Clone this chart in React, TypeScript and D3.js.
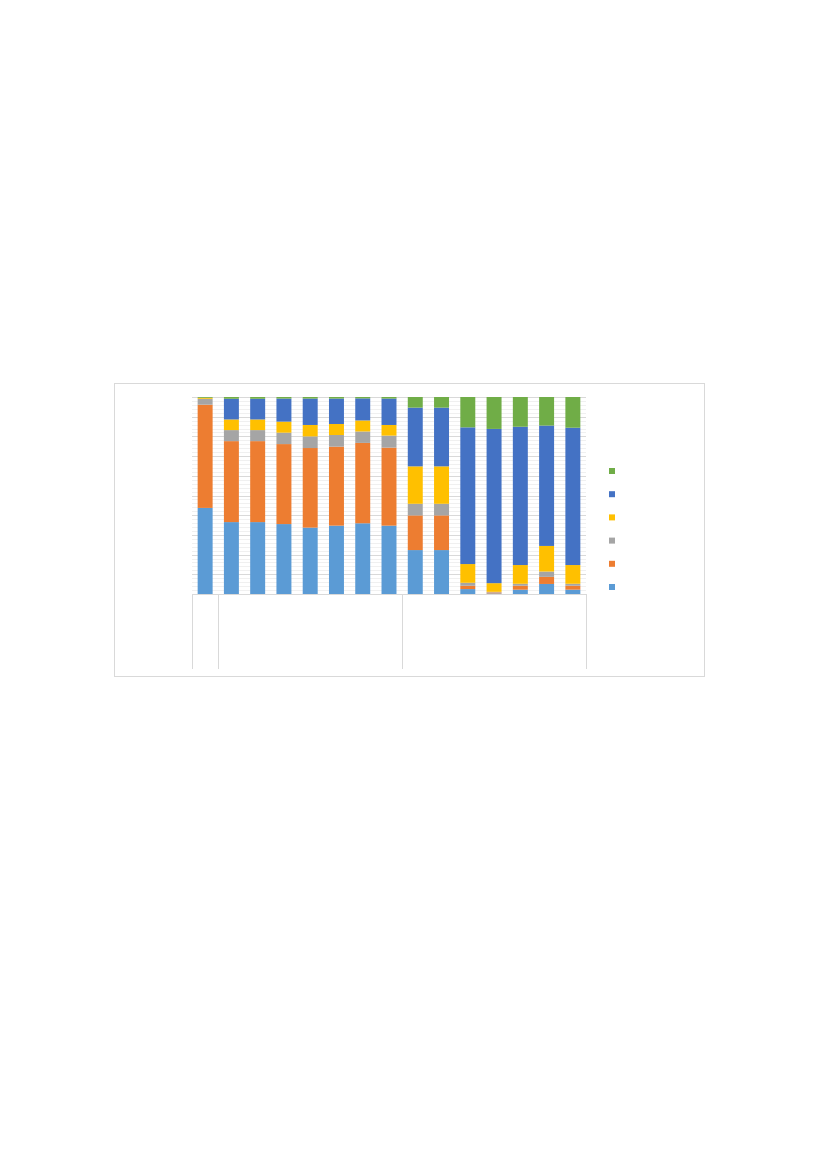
import * as d3 from "d3";

// series, bottom to top (percent of each bar)
const seriesKeys = ["s1", "s2", "s3", "s4", "s5", "s6"];
const seriesColors = ["#5B9BD5", "#ED7D31", "#A5A5A5", "#FFC000", "#4472C4", "#70AD47"];

const s1 = [43.7, 36.5, 36.5, 35.5, 33.7, 34.7, 35.9, 34.7, 22.3, 22.3, 2.5, 0.3, 2.2, 5.1, 2.2];
const s2 = [52.4, 41.1, 41.1, 40.6, 40.4, 40.1, 40.8, 39.6, 17.6, 17.6, 1.7, 0.5, 2.0, 3.6, 2.0];
const s3 = [3.0, 5.6, 5.6, 5.8, 5.9, 5.9, 5.8, 6.1, 5.9, 5.9, 1.5, 0.3, 1.0, 2.7, 1.0];
const s4 = [0.5, 5.4, 5.4, 5.6, 5.8, 5.6, 5.6, 5.4, 19.0, 19.0, 9.5, 4.4, 9.5, 13.0, 9.5];
const s5 = [0.0, 10.5, 10.5, 11.7, 13.4, 12.9, 11.2, 13.4, 29.8, 29.8, 69.4, 78.3, 70.2, 61.1, 69.7];
const s6 = [0.4, 0.9, 0.9, 0.8, 0.8, 0.8, 0.7, 0.8, 5.4, 5.4, 15.4, 16.2, 15.1, 14.5, 15.6];

const categories = d3.range(1, 16).map(String);
// group sizes of the two-level category axis
const groupSizes = [1, 7, 7];

const majorTicks = d3.range(0, 101, 10);
const minorTicks = d3.range(0, 101, 2).filter((v) => v % 10 !== 0);

export default function App() {
  const W = 827;
  const H = 1169;
  const plot = { left: 192, right: 586, top: 397, bottom: 594 };

  const all = [s1, s2, s3, s4, s5, s6];
  const rows = categories.map((c, i) => {
    const row: Record<string, number | string> = { cat: c };
    const total = d3.sum(all, (s) => s[i]);
    seriesKeys.forEach((k, j) => (row[k] = (all[j][i] / total) * 100));
    return row;
  });
  const stacked = d3.stack<any>().keys(seriesKeys)(rows);

  const x = d3
    .scaleBand()
    .domain(categories)
    .range([plot.left, plot.right])
    .paddingInner(0.43)
    .paddingOuter(0.215);
  const y = d3.scaleLinear().domain([0, 100]).range([plot.bottom, plot.top]);

  const step = x.step();
  let acc = 0;
  const dividers = [plot.left - 0.5];
  groupSizes.forEach((g) => {
    acc += g;
    dividers.push(plot.left + acc * step);
  });

  const legendY = d3
    .scalePoint<number>()
    .domain(d3.range(6))
    .range([587, 471]);

  return (
    <svg
      width={W}
      height={H}
      style={{ position: "absolute", top: 0, left: 0, background: "#fff" }}
    >
      <rect x={114.5} y={383.5} width={590} height={293} fill="#fff" stroke="#d9d9d9" />
      {minorTicks.map((t) => (
        <line
          key={"mi" + t}
          x1={plot.left}
          x2={plot.right}
          y1={Math.round(y(t)) + 0.5}
          y2={Math.round(y(t)) + 0.5}
          stroke="#f0f0f0"
        />
      ))}
      {majorTicks.map((t) => (
        <line
          key={"ma" + t}
          x1={plot.left}
          x2={plot.right}
          y1={Math.round(y(t)) + 0.5}
          y2={Math.round(y(t)) + 0.5}
          stroke="#d9d9d9"
        />
      ))}
      {stacked.map((layer, j) => (
        <g key={layer.key} fill={seriesColors[j]}>
          {layer.map((d, i) => (
            <rect
              key={i}
              x={x(categories[i])!}
              y={y(d[1])}
              width={x.bandwidth()}
              height={Math.max(0, y(d[0]) - y(d[1]))}
            />
          ))}
        </g>
      ))}
      <line x1={plot.left} x2={plot.right} y1={plot.bottom + 0.5} y2={plot.bottom + 0.5} stroke="#d9d9d9" />
      {dividers.map((dx, i) => (
        <line
          key={"dv" + i}
          x1={Math.round(dx) + 0.5}
          x2={Math.round(dx) + 0.5}
          y1={plot.bottom}
          y2={669}
          stroke="#d9d9d9"
        />
      ))}
      {seriesKeys.map((k, j) => (
        <rect
          key={"lg" + k}
          x={609}
          y={legendY(j)! - 3}
          width={6}
          height={6}
          fill={seriesColors[j]}
        />
      ))}
    </svg>
  );
}
